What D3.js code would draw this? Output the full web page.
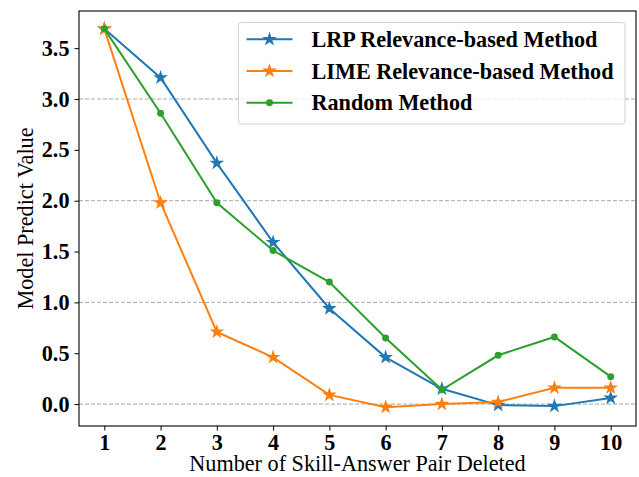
<!DOCTYPE html>
<html>
<head>
<meta charset="utf-8">
<script src="https://cdn.jsdelivr.net/npm/d3@7"></script>
<style>
  body { margin: 0; background: #fff; }
  svg { display: block; font-family: "Liberation Serif", "Times New Roman", serif; }
</style>
</head>
<body>
<svg id="chart" width="639" height="477"></svg>
<script>
// Data
const steps = [1, 2, 3, 4, 5, 6, 7, 8, 9, 10];
const lrpValues = [3.69, 3.21, 2.37, 1.59, 0.94, 0.46, 0.15, -0.01, -0.02, 0.06];
const limeValues = [3.69, 1.98, 0.71, 0.46, 0.09, -0.03, 0.0, 0.02, 0.16, 0.16];
const randomValues = [3.69, 2.86, 1.98, 1.51, 1.20, 0.65, 0.14, 0.48, 0.66, 0.27];
const yTicks = [0, 0.5, 1, 1.5, 2, 2.5, 3, 3.5];
const gridValues = [0, 1, 2, 3];
const seriesNames = ["LRP Relevance-based Method", "LIME Relevance-based Method", "Random Method"];

const width = 639, height = 477;
const margin = { top: 11, right: 3, bottom: 51, left: 79 };
const svg = d3.select("#chart");

const x = d3.scaleLinear().domain([0.55, 10.45]).range([margin.left, width - margin.right]);
const y = d3.scaleLinear().domain([-0.2155, 3.8655]).range([height - margin.bottom, margin.top]);

const series = [
  { name: seriesNames[0], values: lrpValues, color: "#1f77b4", marker: "star" },
  { name: seriesNames[1], values: limeValues, color: "#ff7f0e", marker: "star" },
  { name: seriesNames[2], values: randomValues, color: "#2ca02c", marker: "dot" }
];

// dashed grid at whole numbers only
svg.append("g").selectAll("line")
  .data(gridValues)
  .join("line")
  .attr("x1", margin.left).attr("x2", width - margin.right)
  .attr("y1", d => y(d)).attr("y2", d => y(d))
  .attr("stroke", "#a8a8a8").attr("stroke-width", 1)
  .attr("stroke-dasharray", "4,2");

// axes
const xAxis = svg.append("g")
  .attr("transform", `translate(0,${height - margin.bottom})`)
  .call(d3.axisBottom(x).tickValues(steps).tickFormat(d3.format("d")).tickSizeOuter(0).tickSize(4.5).tickPadding(4));
const yAxis = svg.append("g")
  .attr("transform", `translate(${margin.left},0)`)
  .call(d3.axisLeft(y).tickValues(yTicks).tickFormat(d3.format(".1f")).tickSizeOuter(0).tickSize(4.5).tickPadding(5));

[xAxis, yAxis].forEach(ax => {
  ax.attr("font-family", null).attr("font-size", null);
  ax.select(".domain").remove();
  ax.selectAll(".tick line").attr("stroke", "#000").attr("stroke-width", 1);
  ax.selectAll(".tick text")
    .attr("font-size", 22.2).attr("font-weight", "bold").attr("fill", "#000");
});

// frame
svg.append("rect")
  .attr("x", margin.left).attr("y", margin.top)
  .attr("width", width - margin.right - margin.left)
  .attr("height", height - margin.bottom - margin.top)
  .attr("fill", "none").attr("stroke", "#000").attr("stroke-width", 1.1);

// lines and markers
const line = d3.line().x((d, i) => x(steps[i])).y(d => y(d));
const star = d3.symbol().type(d3.symbolStar).size(68);
const dot = d3.symbol().type(d3.symbolCircle).size(38);

series.forEach(s => {
  const g = svg.append("g");
  g.append("path")
    .attr("d", line(s.values))
    .attr("fill", "none").attr("stroke", s.color).attr("stroke-width", 2);
  g.selectAll("path.mark")
    .data(s.values)
    .join("path")
    .attr("class", "mark")
    .attr("d", s.marker === "star" ? star() : dot())
    .attr("transform", (d, i) => `translate(${x(steps[i])},${y(d)})`)
    .attr("fill", s.color);
});

// axis titles
svg.append("text")
  .attr("x", (margin.left + width - margin.right) / 2).attr("y", 471)
  .attr("text-anchor", "middle").attr("font-size", 22.2)
  .text("Number of Skill-Answer Pair Deleted");
svg.append("text")
  .attr("transform", `translate(33,${(margin.top + height - margin.bottom) / 2}) rotate(-90)`)
  .attr("text-anchor", "middle").attr("font-size", 22.2)
  .text("Model Predict Value");

// legend
const legend = svg.append("g");
legend.append("rect")
  .attr("x", 238.5).attr("y", 22.5).attr("width", 386.5).attr("height", 101.5)
  .attr("rx", 3).attr("fill", "#fff").attr("fill-opacity", 0.8)
  .attr("stroke", "#d0d0d0").attr("stroke-width", 1);
const rows = legend.selectAll("g.row")
  .data(series)
  .join("g")
  .attr("class", "row")
  .attr("transform", (d, i) => `translate(0,${39.3 + i * 31.7})`);
rows.append("line")
  .attr("x1", 246.5).attr("x2", 292.5)
  .attr("stroke", d => d.color).attr("stroke-width", 2);
rows.append("path")
  .attr("d", d => d.marker === "star" ? star() : dot())
  .attr("transform", "translate(269.5,0)")
  .attr("fill", d => d.color);
rows.append("text")
  .attr("x", 311.5).attr("dy", "0.35em")
  .attr("font-size", 22.2).attr("font-weight", "bold")
  .text(d => d.name);
</script>
</body>
</html>
